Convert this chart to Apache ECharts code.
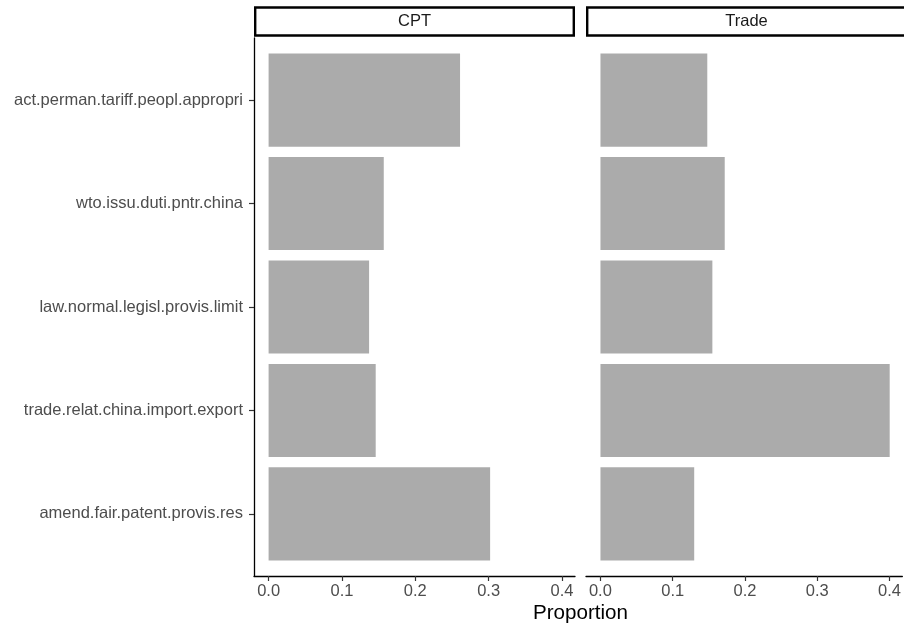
<!DOCTYPE html>
<html>
<head>
<meta charset="utf-8">
<style>
  html, body { margin: 0; padding: 0; background: #ffffff; }
  #chart { width: 904px; height: 627px; }
</style>
<script src="https://cdn.jsdelivr.net/npm/echarts@6/dist/echarts.min.js"></script>
</head>
<body>
<div id="chart"></div>
<script>
// Topic labels, listed top to bottom
const categories = [
  'act.perman.tariff.peopl.appropri',
  'wto.issu.duti.pntr.china',
  'law.normal.legisl.provis.limit',
  'trade.relat.china.import.export',
  'amend.fair.patent.provis.res'
];
// Facet names
const panels = ['CPT', 'Trade'];
// Proportion per topic in each facet
const cptValues = [0.261, 0.157, 0.137, 0.146, 0.302];
const tradeValues = [0.147, 0.171, 0.154, 0.398, 0.129];
// Tick values on the proportion axis
const xTicks = [0, 0.1, 0.2, 0.3, 0.4];
const axisTitle = 'Proportion';

const FONT = '"Liberation Sans", Arial, Helvetica, sans-serif';
const X_MIN = -0.0199, X_MAX = 0.4177;

// panel geometry: discrete scale padded by 0.6 of a band on each side
const panelTop = 38, panelHeight = 538;
const unit = panelHeight / (categories.length + 0.2);
const dataTop = panelTop + 0.1 * unit;
const dataHeight = unit * categories.length;
const panelLefts = [254, 586];
const panelWidth = 321;

const chart = echarts.init(document.getElementById('chart'), null, { renderer: 'canvas' });

const grids = [];
const xAxes = [];
const yAxes = [];
const series = [];
const seriesValues = [cptValues, tradeValues];

panels.forEach((name, p) => {
  // data grid (holds the bars)
  grids.push({ left: panelLefts[p], width: panelWidth, top: dataTop, height: dataHeight });
  // frame grid (axis lines / ticks across the full panel)
  grids.push({ left: panelLefts[p], width: panelWidth, top: panelTop, height: panelHeight });
});

panels.forEach((name, p) => {
  const dg = p * 2, fg = p * 2 + 1;
  xAxes.push({ type: 'value', gridIndex: dg, min: X_MIN, max: X_MAX, show: false });
  xAxes.push({
    type: 'value', gridIndex: fg, min: X_MIN, max: X_MAX, position: 'bottom',
    axisLine: { show: true, onZero: false, lineStyle: { color: '#000000', width: 1.3 } },
    axisTick: { show: true, length: 5, customValues: xTicks, lineStyle: { color: '#333333', width: 1.2 } },
    axisLabel: {
      show: true, customValues: xTicks, margin: 7,
      color: '#4d4d4d', fontSize: 16.5, fontFamily: FONT,
      formatter: v => Number(v).toFixed(1)
    },
    splitLine: { show: false }
  });
  yAxes.push({
    type: 'category', gridIndex: dg, data: categories, inverse: true,
    show: p === 0, position: 'left',
    axisLine: { show: false, onZero: false },
    axisTick: { show: true, length: 5, alignWithLabel: true, lineStyle: { color: '#333333', width: 1.2 } },
    axisLabel: { show: true, margin: 11, color: '#4d4d4d', fontSize: 16.5, fontFamily: FONT },
    splitLine: { show: false }
  });
  yAxes.push({
    type: 'value', gridIndex: fg, min: 0, max: 1,
    show: p === 0, position: 'left',
    axisLine: { show: true, onZero: false, lineStyle: { color: '#000000', width: 1.3 } },
    axisTick: { show: false }, axisLabel: { show: false }, splitLine: { show: false }
  });

  series.push({
    type: 'bar', name: name,
    xAxisIndex: dg, yAxisIndex: dg,
    data: seriesValues[p],
    barWidth: '90%',
    itemStyle: { color: '#ababab' },
    silent: true
  });
});

// facet strips
const strips = panels.map((name, p) => ({
  type: 'group',
  children: [
    {
      type: 'rect',
      shape: { x: panelLefts[p] + 1.2, y: 7.5, width: panelWidth - 2.4, height: 28 },
      style: { fill: '#ffffff', stroke: '#000000', lineWidth: 2.4 }
    },
    {
      type: 'text',
      x: panelLefts[p] + panelWidth / 2, y: 21.5,
      style: {
        text: name, fill: '#1a1a1a', font: '16.5px ' + FONT,
        textAlign: 'center', textVerticalAlign: 'middle'
      }
    }
  ]
}));

const titleEl = {
  type: 'text',
  x: (panelLefts[0] + panelLefts[1] + panelWidth) / 2, y: 613,
  style: {
    text: axisTitle, fill: '#000000', font: '20.6px ' + FONT,
    textAlign: 'center', textVerticalAlign: 'middle'
  }
};

chart.setOption({
  animation: false,
  backgroundColor: '#ffffff',
  grid: grids,
  xAxis: xAxes,
  yAxis: yAxes,
  series: series,
  graphic: strips.concat([titleEl])
});
</script>
</body>
</html>
